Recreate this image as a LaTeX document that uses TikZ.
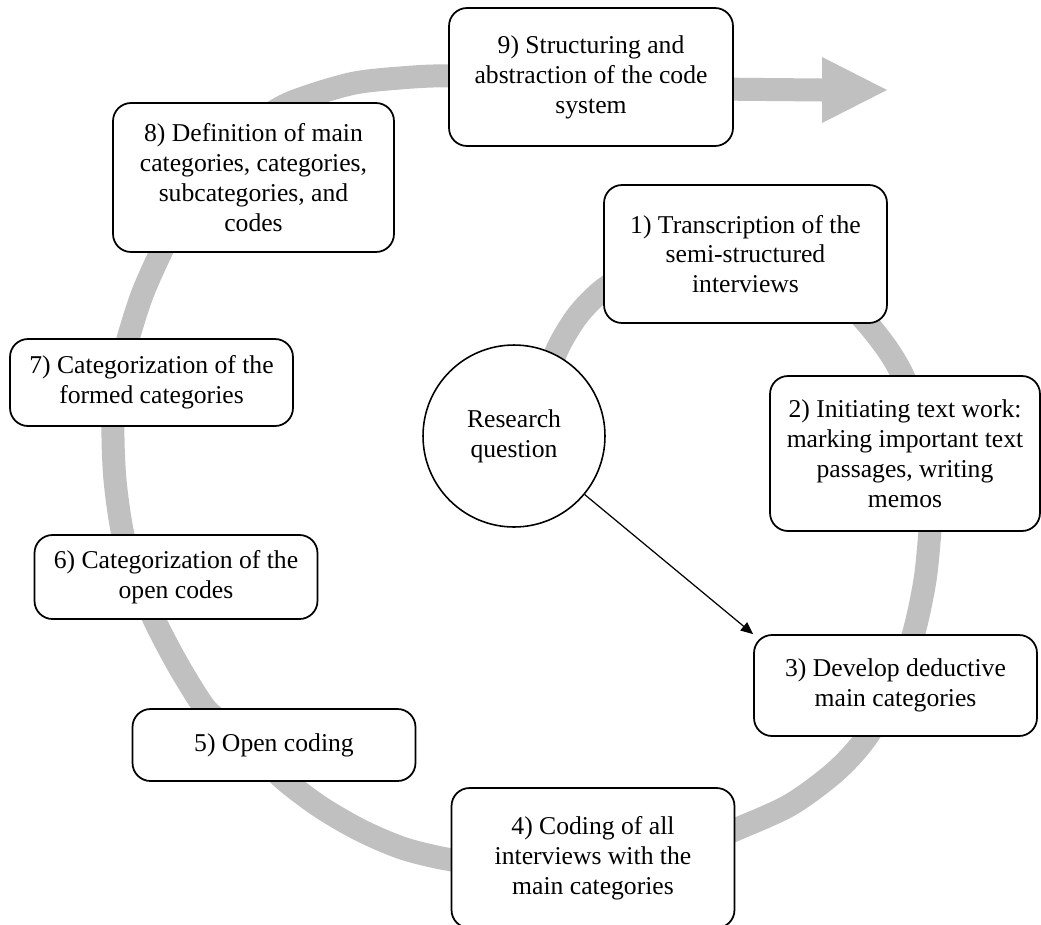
\documentclass[tikz,border=0pt]{standalone}
\usepackage{fontspec}
\setmainfont{Liberation Serif}
\usetikzlibrary{arrows.meta}
\definecolor{bandgray}{RGB}{192,192,192}

\begin{document}
\begin{tikzpicture}[x=0.02cm,y=-0.02cm,
    every node/.style={font=\fontsize{14.6}{17}\selectfont,align=center},
    stage/.style={shape=rectangle,rounded corners=0.36cm,draw=black,fill=white,
                  line width=1pt,minimum width=5.66cm,inner sep=0pt}]
    \useasboundingbox (0,0) rectangle (1041,924);
    % grey spiral band
    \draw[bandgray,line width=0.46cm] plot[smooth] coordinates {
        (545,390) (557,350) (578,315) (604,289) (640,268) (690,256) (745,256)
        (800,272) (840,295) (867,323) (888,350) (903,376) (918,415) (928,460)
        (932,505) (930,531) (925,580) (914,632) (895,688) (866,738) (835,772)
        (790,805) (737,829) (690,848) (640,860) (595,865) (545,866) (495,864)
        (452,860) (405,849) (362,831) (322,808) (287,782) (255,752) (225,725)
        (205,708) (178,665) (154,619) (137,577) (123,535) (115,480) (113,426)
        (117,382) (128,339) (142,295) (161,252) (185,205) (220,160) (255,125)
        (290,103) (350,84) (400,78) (449,76) (520,82) (600,88)} -- (822,90);
    \fill[bandgray] (822,57) -- (887,90) -- (822,123) -- cycle;

    \node[stage,minimum height=2.76cm] (S1) at (745.5,254) {1) Transcription of the\\semi-structured\\interviews};
    \node[stage,minimum width=5.4cm,minimum height=3.1cm] (S2) at (905,453.5) {2) Initiating text work:\\marking important text\\passages, writing\\memos};
    \node[stage,minimum height=2.02cm] (S3) at (895.5,685.5) {3) Develop deductive\\main categories};
    \node[stage,minimum height=2.8cm] (S4) at (593,858) {4) Coding of all\\interviews with the\\main categories};
    \node[stage,minimum height=1.44cm] (S5) at (274,745) {5) Open coding};
    \node[stage,minimum height=1.68cm] (S6) at (176,577) {6) Categorization of the\\open codes};
    \node[stage,minimum height=1.74cm] (S7) at (151.5,382.5) {7) Categorization of the\\formed categories};
    \node[stage,minimum width=5.62cm,minimum height=2.98cm] (S8) at (253.5,177.5) {8) Definition of main\\categories, categories,\\subcategories, and\\codes};
    \node[stage,minimum width=5.68cm,minimum height=2.76cm] (S9) at (591,77) {9) Structuring and\\abstraction of the code\\system};

    \node[shape=circle,draw=black,fill=white,line width=0.9pt,minimum size=3.64cm,inner sep=0pt] (RQ) at (514,436) {Research\\question};
    \path [-{Triangle[length=7pt,width=6pt]},line width=0.7pt] (RQ) edge (S3.north west);
\end{tikzpicture}
\end{document}
